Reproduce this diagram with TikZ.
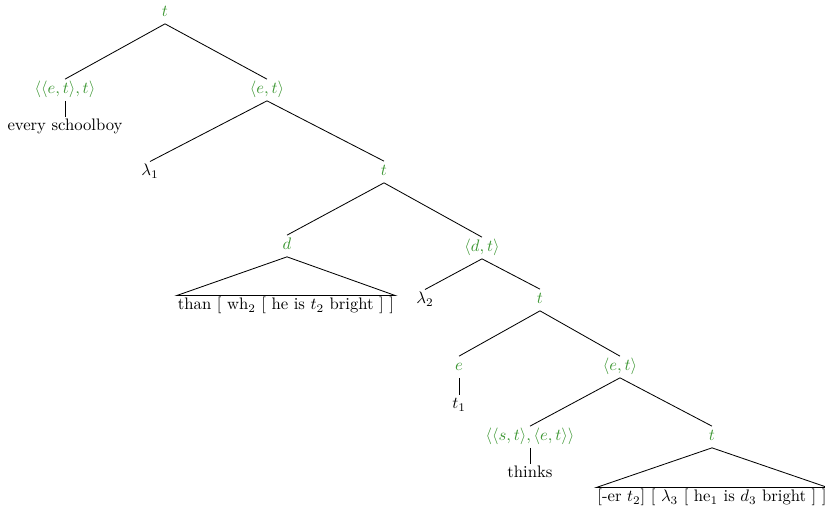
\documentclass[tikz,border=0pt]{standalone}
\usepackage{tikz}

\definecolor{typegreen}{RGB}{60,150,50}
\tikzset{
  type/.style={text=typegreen, text height=1.5ex, text depth=0.5ex, inner sep=2pt},
  leaf/.style={text height=1.5ex, text depth=0.4ex, inner sep=2pt},
  roof/.style={leaf, inner xsep=0.5pt},
  branch/.style={line width=0.5pt},
}

\begin{document}
\begin{tikzpicture}[x=0.6pt,y=-0.6pt]
  \useasboundingbox (0,0) rectangle (825,509);
  % types
  \node[type] (root) at (165,13) {$t$};
  \node[type] (q) at (65,90) {$\langle\langle e,t\rangle,t\rangle$};
  \node[type] (et1) at (267,90) {$\langle e,t\rangle$};
  \node[type] (t2) at (384,172) {$t$};
  \node[type] (d) at (287,246) {$d$};
  \node[type] (dt) at (482,248) {$\langle d,t\rangle$};
  \node[type] (t3) at (540,300) {$t$};
  \node[type] (e) at (459,367) {$e$};
  \node[type] (et2) at (620,367) {$\langle e,t\rangle$};
  \node[type] (st) at (530,437) {$\langle\langle s,t\rangle,\langle e,t\rangle\rangle$};
  \node[type] (t4) at (712,437) {$t$};
  % leaves
  \node[leaf] (esb) at (65,127) {every schoolboy};
  \node[leaf] (lam1) at (150,172) {$\lambda_1$};
  \node[roof] (than) at (286,306) {than [ wh$_2$ [ he is $t_2$ bright ] ]};
  \node[leaf] (lam2) at (425,300) {$\lambda_2$};
  \node[leaf] (t1) at (459,405) {$t_1$};
  \node[leaf] (thinks) at (530,474) {thinks};
  \node[roof] (er) at (712,498) {[-er $t_2$] [ $\lambda_3$ [ he$_1$ is $d_3$ bright ] ]};
  % branches
  \draw[branch] (root.south) -- (q.north);
  \draw[branch] (root.south) -- (et1.north);
  \draw[branch] (q.south) -- (esb.north);
  \draw[branch] (et1.south) -- (lam1.north);
  \draw[branch] (et1.south) -- (t2.north);
  \draw[branch] (t2.south) -- (d.north);
  \draw[branch] (t2.south) -- (dt.north);
  \draw[branch] (d.south) -- (than.north west) -- (than.north east) -- cycle;
  \draw[branch] (dt.south) -- (lam2.north);
  \draw[branch] (dt.south) -- (t3.north);
  \draw[branch] (t3.south) -- (e.north);
  \draw[branch] (t3.south) -- (et2.north);
  \draw[branch] (e.south) -- (t1.north);
  \draw[branch] (et2.south) -- (st.north);
  \draw[branch] (et2.south) -- (t4.north);
  \draw[branch] (st.south) -- (thinks.north);
  \draw[branch] (t4.south) -- (er.north west) -- (er.north east) -- cycle;
\end{tikzpicture}
\end{document}
